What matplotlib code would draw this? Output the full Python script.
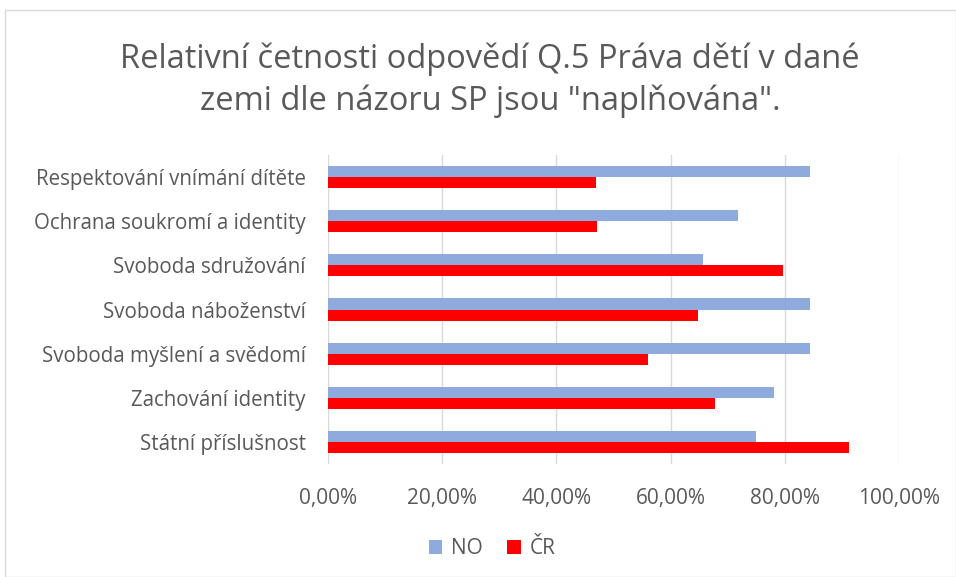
import matplotlib
matplotlib.use("Agg")
import matplotlib.pyplot as plt
from matplotlib.patches import Rectangle
from matplotlib.ticker import FuncFormatter

categories = [
    "Respektování vnímání dítěte",
    "Ochrana soukromí a identity",
    "Svoboda sdružování",
    "Svoboda náboženství",
    "Svoboda myšlení a svědomí",
    "Zachování identity",
    "Státní příslušnost",
]
no_values = [0.8438, 0.7188, 0.6563, 0.8438, 0.8438, 0.7813, 0.75]
cr_values = [0.469, 0.471, 0.796, 0.648, 0.560, 0.678, 0.913]
series_names = ["NO", "ČR"]
xticks = [0, 0.2, 0.4, 0.6, 0.8, 1.0]
title = 'Relativní četnosti odpovědí Q.5 Práva dětí v dané\nzemi dle názoru SP jsou "naplňována".'

c_no = "#8FAADC"
c_cr = "#FF0000"
txt = "#595959"
font = ["Open Sans", "DejaVu Sans"]

W, H = 956, 577
fig = plt.figure(figsize=(W / 100, H / 100), dpi=100)
fig.patch.set_facecolor("white")

# chart border
fig.add_artist(Rectangle((5 / W, 0), 1 - 5 / W, 1 - 10 / H, transform=fig.transFigure,
                         fill=False, edgecolor="#D9D9D9", linewidth=1.0))

left, right, top, bottom = 328, 899, 155, 464
ax = fig.add_axes([left / W, 1 - bottom / H, (right - left) / W, (bottom - top) / H])

n = len(categories)
ys = [n - 1 - i for i in range(n)]
h = 0.25
ax.barh([y + h / 2 for y in ys], no_values, height=h, color=c_no, label=series_names[0], zorder=3)
ax.barh([y - h / 2 for y in ys], cr_values, height=h, color=c_cr, label=series_names[1], zorder=3)

ax.set_ylim(-0.5, n - 0.5)
ax.set_xlim(0, 1.0)
ax.set_yticks(ys)
ax.set_yticklabels(categories, fontsize=14.8, color=txt, family=font)
ax.set_xticks(xticks)
ax.xaxis.set_major_formatter(FuncFormatter(lambda v, p: f"{v*100:.2f}%".replace(".", ",")))
for lab in ax.get_xticklabels():
    lab.set_fontsize(15)
    lab.set_color(txt)
    lab.set_family(font)
ax.tick_params(axis="both", length=0)
ax.tick_params(axis="y", pad=16)
ax.tick_params(axis="x", pad=17)
ax.grid(axis="x", color="#D9D9D9", linewidth=1.0, zorder=0)
for s in ax.spines.values():
    s.set_visible(False)

fig.text(490 / W, 1 - 80 / H, title, ha="center", va="center", fontsize=23.5, color=txt,
         family=font, linespacing=1.35)

leg = fig.legend(loc="center", bbox_to_anchor=(492 / W, 1 - 549 / H), ncol=2, frameon=False,
                 prop={"family": font, "size": 15}, handlelength=0.65, handleheight=0.65,
                 handletextpad=0.4, columnspacing=1.2)
for t in leg.get_texts():
    t.set_color(txt)

fig.savefig("out.png", dpi=100)
